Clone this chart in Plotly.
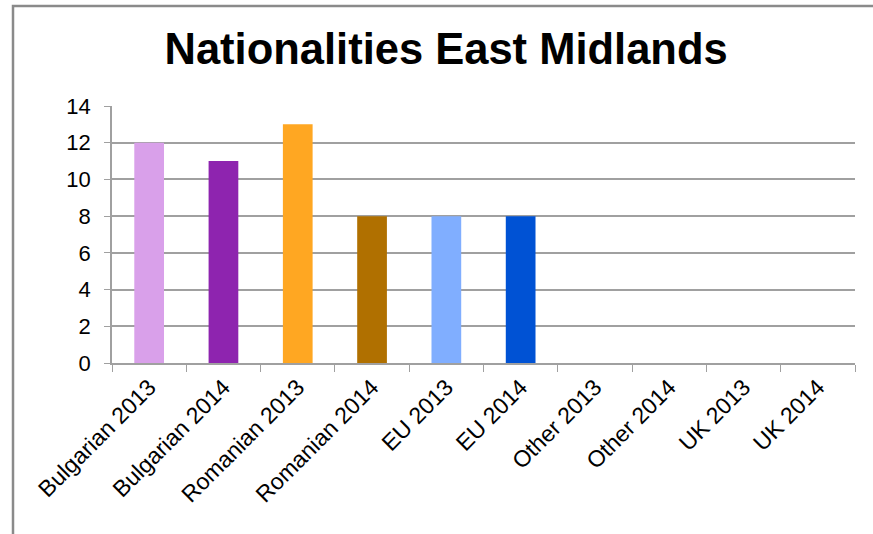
import plotly.graph_objects as go

categories = ["Bulgarian 2013", "Bulgarian 2014", "Romanian 2013", "Romanian 2014",
              "EU 2013", "EU 2014", "Other 2013", "Other 2014", "UK 2013", "UK 2014"]
values = [12, 11, 13, 8, 8, 8, 0, 0, 0, 0]
colors = ["#D9A0EA", "#8E24AF", "#FFA722", "#B07000", "#80AEFF", "#0052D4",
          "#999999", "#999999", "#999999", "#999999"]
y_ticks = [0, 2, 4, 6, 8, 10, 12, 14]

W, H = 873, 534
L, R, T, B = 112, 18, 106, 171

fig = go.Figure(go.Bar(x=categories, y=values, marker=dict(color=colors, line=dict(width=0)),
                       width=0.4, showlegend=False))

fig.update_layout(
    width=W, height=H,
    margin=dict(l=L, r=R, t=T, b=B),
    paper_bgcolor="white", plot_bgcolor="white",
    font=dict(family="Liberation Sans, Arial, sans-serif", color="#000000"),
    title=dict(text="<b>Nationalities East Midlands</b>", x=0.511, xanchor="center",
               y=1 - 49 / H, yanchor="middle", yref="container",
               font=dict(size=43.5, family="Liberation Sans, Arial, sans-serif", color="#000000")),
    bargap=0.6,
)
fig.update_xaxes(
    type="category", tickangle=-45, tickfont=dict(size=23),
    showline=True, linecolor="#A0A0A0", linewidth=1.5,
    ticks="outside", ticklen=7, tickcolor="#A0A0A0", tickson="boundaries",
    showgrid=False, range=[-0.5, 9.5],
)
fig.update_yaxes(
    range=[0, 14], tickvals=y_ticks, tickfont=dict(size=22),
    showline=True, linecolor="#A0A0A0", linewidth=1.5,
    ticks="outside", ticklen=6, tickcolor="#A0A0A0",
    showgrid=True, gridcolor="#A0A0A0", gridwidth=1.5, zeroline=False,
    ticklabelstandoff=9,
)
fig.add_shape(type="rect", xref="paper", yref="paper",
              x0=(13 - L) / (W - L - R), x1=(W + 20 - L) / (W - L - R),
              y0=-(H + 20 - T - (H - T - B)) / (H - T - B) - 0.2, y1=1 + (T - 6) / (H - T - B),
              line=dict(color="#8A8A8A", width=2.5), fillcolor="rgba(0,0,0,0)", layer="above")

fig.write_html("out.html", config={"displayModeBar": False},
               post_script="document.body.style.margin='0px';")
